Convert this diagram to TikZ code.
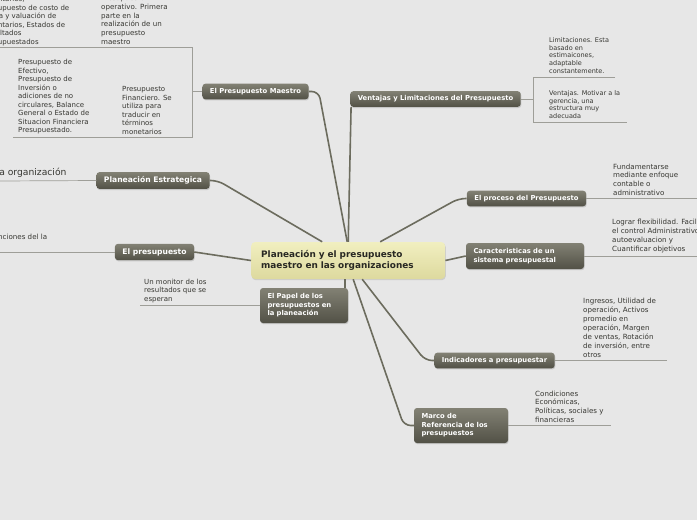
\documentclass[tikz,border=0pt]{standalone}
\usepackage{fontspec}
\setmainfont{DejaVu Sans}
\usepackage{xcolor}
\usepackage{tikz}
\usetikzlibrary{positioning, shadows}
\definecolor{mybg}{RGB}{231,231,231}
\definecolor{brtop}{RGB}{130,129,116}
\definecolor{brbot}{RGB}{82,81,70}
\definecolor{ctop}{RGB}{241,239,192}
\definecolor{cbot}{RGB}{221,217,158}
\definecolor{ctext}{RGB}{40,40,35}
\definecolor{trunkcol}{RGB}{108,108,94}
\definecolor{twigcol}{RGB}{158,158,152}
\definecolor{leaftext}{RGB}{55,55,50}
\tikzset{
  central/.style={rectangle, top color=ctop, bottom color=cbot, text=ctext,
    text width=174pt, align=left, minimum height=37pt, inner xsep=10pt,
    font=\bfseries\fontsize{8.9}{11.5}\selectfont, rounded corners=4pt,
    drop shadow={opacity=0.25, shadow xshift=0.6pt, shadow yshift=-1.2pt}},
  branch/.style={rectangle, top color=brtop, bottom color=brbot, text=white,
    align=left, inner xsep=7.5pt, inner ysep=4.5pt,
    font=\bfseries\fontsize{6.8}{8.6}\selectfont, rounded corners=3pt,
    drop shadow={opacity=0.3, shadow xshift=0.6pt, shadow yshift=-1.2pt}},
  bigbranch/.style={branch, font=\bfseries\fontsize{7.6}{9.4}\selectfont},
  leaf/.style={anchor=south west, inner sep=0pt, align=left, text=leaftext,
    font=\fontsize{7.1}{8.9}\selectfont},
  leafmid/.style={leaf, font=\fontsize{6.5}{7.9}\selectfont},
  leaftight/.style={leaf, font=\fontsize{7}{8.5}\selectfont},
  leafbig/.style={leaf, font=\fontsize{9.2}{11}\selectfont},
  trunk/.style={line width=1.6pt, color=trunkcol, rounded corners=7pt},
  twig/.style={line width=0.7pt, color=twigcol}
}

\begin{document}
\begin{tikzpicture}[x=1pt, y=-1pt]
  \useasboundingbox (0,0) rectangle (697,520);
  \clip (0,0) rectangle (697,520);
  \fill[mybg] (0,0) rectangle (697,520);

  % Central topic
  \node[central, anchor=west] (central) at (251,260.5) {Planeación y el presupuesto\\maestro en las organizaciones};

  % Branches left
  \node[branch] (maestro) at (255.5,91.5) {El Presupuesto Maestro};
  \node[bigbranch] (estrategica) at (153,180.5) {Planeación Estrategica};
  \node[bigbranch] (presupuesto) at (154.5,252) {El presupuesto};
  \node[branch, text width=73pt, minimum height=35pt] (papel) at (304,305.5) {El Papel de los\\presupuestos en\\la planeación};

  % Branches right
  \node[branch] (ventajas) at (435.5,99) {Ventajas y Limitaciones del Presupuesto};
  \node[branch] (proceso) at (526.5,198.5) {El proceso del Presupuesto};
  \node[branch, text width=103pt, minimum height=26pt] (caract) at (525,256) {Caracteristicas de un\\sistema presupuestal};
  \node[branch] (indicadores) at (494.5,360.5) {Indicadores a presupuestar};
  \node[branch, text width=79pt, minimum height=35pt] (marco) at (461,425.5) {Marco de\\Referencia de los\\presupuestos};

  % Connectors to the central topic
  \draw[trunk] (maestro.east) -- ++(10,0) -- ([xshift=-1pt]central.north);
  \draw[trunk] ([xshift=1pt]ventajas.south west) -- (central.north);
  \draw[trunk] (estrategica.east) -- ++(8,0) -- ([xshift=-26pt]central.north);
  \draw[trunk] (presupuesto.east) -- (central.west);
  \draw[trunk] ([xshift=-3pt]central.south) -- ([xshift=-3pt]central.south |- papel.north);
  \draw[trunk] (proceso.west) -- ++(-8,0) -- ([xshift=32pt]central.north);
  \draw[trunk] (caract.west) -- (central.east);
  \draw[trunk] ([xshift=14pt]central.south) -- ([xshift=-9pt]indicadores.west) -- (indicadores.west);
  \draw[trunk] ([xshift=5pt]central.south) -- ([xshift=-10pt]marco.west) -- (marco.west);

  % Presupuesto Maestro subtree
  \coordinate (mfork) at (192,91.5);
  \coordinate (optop) at (192,47);
  \coordinate (costoend) at (0,47);
  \coordinate (finbot) at (192,137);
  \coordinate (efecend) at (13,137);
  \draw[twig] (maestro.west) -- (mfork);
  \draw[twig] (costoend) -- (optop) -- (finbot) -- (efecend);
  \node[leaftight] (costo) at (-17,46) {inventarios,\\Presupuesto de costo de\\venta y valuación de\\inventarios, Estados de\\Resultados\\Presupuestados};
  \node[leaf] (operativo) at (101,45) {Presupuesto\\operativo. Primera\\parte en la\\realización de un\\presupuesto\\maestro};
  \node[leaftight] (efectivo) at (18,134.5) {Presupuesto de\\Efectivo,\\Presupuesto de\\Inversión o\\adiciones de no\\circulares, Balance\\General o Estado de\\Situacion Financiera\\Presupuestado.};
  \node[leaftight] (financiero) at (122,134.5) {Presupuesto\\Financiero. Se\\utiliza para\\traducir en\\términos\\monetarios};

  % Leaves left
  \coordinate (orgend) at (0,181);
  \draw[twig] (estrategica.west) -- (orgend);
  \node[leafbig] (organizacion) at (-3.5,177.5) {la organización};
  \coordinate (funcend) at (0,252);
  \draw[twig] (presupuesto.west) -- (funcend);
  \node[leaf] (funciones) at (-9,240) {funciones del la};
  \coordinate (monend) at (140,305.5);
  \draw[twig] (papel.west) -- (monend);
  \node[leaftight] (monitor) at (144,303) {Un monitor de los\\resultados que se\\esperan};

  % Ventajas subtree
  \coordinate (vfork) at (533,99);
  \coordinate (vtop) at (533,77);
  \coordinate (vbot) at (533,122);
  \coordinate (limend) at (615,77);
  \coordinate (motend) at (627,122);
  \draw[twig] (ventajas.east) -- (vfork);
  \draw[twig] (limend) -- (vtop) -- (vbot) -- (motend);
  \node[leafmid] (limitaciones) at (549,74) {Limitaciones. Esta\\basado en\\estimaicones,\\adaptable\\constantemente.};
  \node[leafmid, font=\fontsize{6.5}{7.5}\selectfont] (motivar) at (549,118.5) {Ventajas. Motivar a la\\gerencia, una\\estructura muy\\adecuada};

  % Leaves right
  \coordinate (enfend) at (697,198.5);
  \draw[twig] (proceso.east) -- (enfend);
  \node[leaf] (enfoque) at (613,196) {Fundamentarse\\mediante enfoque\\contable o\\administrativo};
  \coordinate (flexend) at (697,256);
  \draw[twig] (caract.east) -- (flexend);
  \node[leaf] (flexibilidad) at (612,253) {Lograr flexibilidad. Facilitar\\el control Administrativo,\\autoevaluacion y\\Cuantificar objetivos};
  \coordinate (ingend) at (667,360.5);
  \draw[twig] (indicadores.east) -- (ingend);
  \node[leaf] (ingresos) at (583,357.5) {Ingresos, Utilidad de\\operación, Activos\\promedio en\\operación, Margen\\de ventas, Rotación\\de inversión, entre\\otros};
  \coordinate (condend) at (611,425.5);
  \draw[twig] (marco.east) -- (condend);
  \node[leaf] (condiciones) at (535,423) {Condiciones\\Económicas,\\Políticas, sociales y\\financieras};
\end{tikzpicture}
\end{document}
